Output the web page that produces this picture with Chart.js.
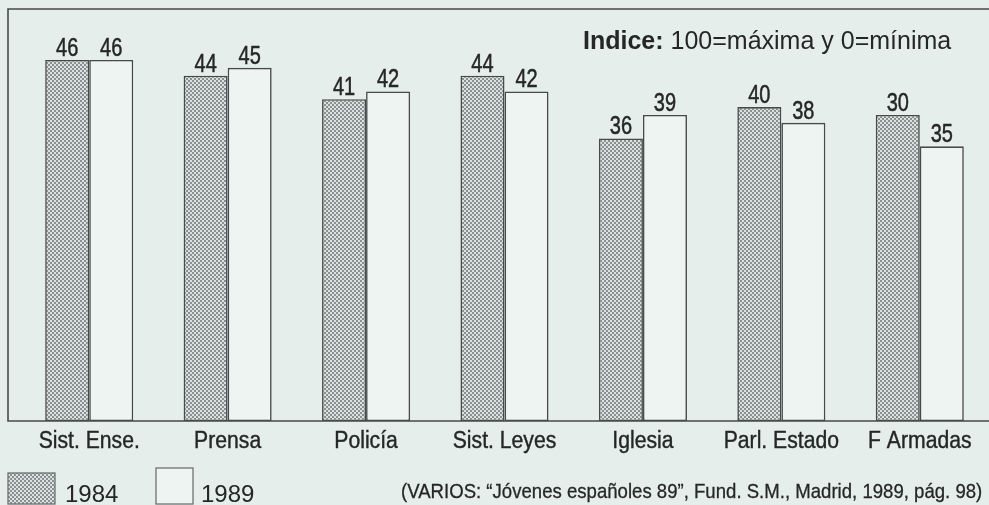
<!DOCTYPE html>
<html>
<head>
<meta charset="utf-8">
<script src="https://cdn.jsdelivr.net/npm/chart.js@4.4.1/dist/chart.umd.min.js"></script>
<style>
  html, body { margin: 0; padding: 0; background: #e5eeeb; }
  #wrap { width: 989px; height: 505px; }
</style>
</head>
<body>
<div id="wrap"><canvas id="c" width="989" height="505"></canvas></div>
<script>
// ---- data ----
const categories = ["Sist. Ense.", "Prensa", "Policía", "Sist. Leyes", "Iglesia", "Parl. Estado", "F Armadas"];
// bar heights as drawn
const values1984 = [46, 44, 41, 44, 36, 40, 39];
const values1989 = [46, 45, 42, 42, 39, 38, 35];
// value labels as printed above the bars
const printed1984 = ["46", "44", "41", "44", "36", "40", "30"];
const printed1989 = ["46", "45", "42", "42", "39", "38", "35"];
const seriesNames = ["1984", "1989"];
const noteBold = "Indice:";
const noteText = " 100=máxima y 0=mínima";
const sourceText = "(VARIOS: \u201CJóvenes españoles 89\u201D, Fund. S.M., Madrid, 1989, pág. 98)";

const SANS = "'Liberation Sans', Arial, Helvetica, sans-serif";
const INK = "#252727";
const LINE = "#474a4a";

// draw horizontally condensed text (the original typeface is a narrow grotesque)
function condensed(ctx, text, x, y, sx, align, weight) {
  ctx.save();
  ctx.translate(x, y);
  ctx.scale(sx, 1);
  ctx.textAlign = align || 'left';
  ctx.fillText(text, 0, 0);
  if (weight) {
    ctx.strokeStyle = ctx.fillStyle;
    ctx.lineWidth = weight;
    ctx.strokeText(text, 0, 0);
  }
  ctx.restore();
}

function makeStipple() {
  const t = document.createElement('canvas');
  t.width = 4; t.height = 4;
  const g = t.getContext('2d');
  g.fillStyle = "#dae1df";
  g.fillRect(0, 0, 4, 4);
  g.fillStyle = "#899090";
  g.fillRect(0, 0, 2, 2);
  g.fillRect(2, 2, 2, 2);
  return g.createPattern(t, 'repeat');
}
const stipple = makeStipple();
const plain = "#eef4f2";

const framePlugin = {
  id: 'frame',
  beforeDatasetsDraw(chart) {
    const { ctx, chartArea: a } = chart;
    ctx.save();
    ctx.strokeStyle = LINE;
    ctx.lineWidth = 1.6;
    ctx.beginPath();
    ctx.moveTo(chart.width, a.top);
    ctx.lineTo(a.left - 12, a.top);
    ctx.lineTo(a.left - 12, a.bottom);
    ctx.lineTo(chart.width, a.bottom);
    ctx.stroke();
    ctx.restore();
  }
};

const textPlugin = {
  id: 'texts',
  afterDatasetsDraw(chart) {
    const { ctx } = chart;
    const printed = [printed1984, printed1989];
    ctx.save();
    ctx.fillStyle = INK;
    ctx.textBaseline = 'alphabetic';
    // value labels
    ctx.font = "25px " + SANS;
    chart.data.datasets.forEach((ds, di) => {
      chart.getDatasetMeta(di).data.forEach((el, i) => {
        condensed(ctx, printed[di][i], el.x, el.y - 4, 0.8, 'center', 0.5);
      });
    });
    // category labels from the x scale
    const xs = chart.scales.x;
    ctx.font = "23px " + SANS;
    chart.data.labels.forEach((lab, i) => {
      condensed(ctx, lab, xs.getPixelForValue(i), chart.chartArea.bottom + 27, 0.92, 'center', 0.4);
    });
    ctx.restore();
  },
  afterDraw(chart) {
    const { ctx } = chart;
    const H = chart.height;
    ctx.save();
    ctx.fillStyle = INK;
    ctx.textBaseline = 'alphabetic';
    // note
    ctx.font = "bold 25px " + SANS;
    const x0 = 583, y0 = 49;
    ctx.fillText(noteBold, x0, y0);
    const w = ctx.measureText(noteBold).width;
    ctx.font = "25px " + SANS;
    ctx.fillText(noteText, x0 + w, y0);

    // legend
    const boxes = [[8, H - 32, 47, 31, 65], [156, H - 37, 37, 36, 201]];
    chart.data.datasets.forEach((ds, i) => {
      const [bx, by, bw, bh, tx] = boxes[i];
      ctx.fillStyle = ds.backgroundColor;
      ctx.fillRect(bx, by, bw, bh);
      ctx.strokeStyle = "#6d7272";
      ctx.lineWidth = 1.3;
      ctx.strokeRect(bx, by, bw, bh);
      ctx.fillStyle = INK;
      ctx.font = "24px " + SANS;
      ctx.fillText(ds.label, tx, H - 3);
    });

    // source
    ctx.font = "21px " + SANS;
    condensed(ctx, sourceText, 401, H - 7, 0.885, 'left', 0.3);
    ctx.restore();
  }
};

new Chart(document.getElementById('c'), {
  type: 'bar',
  data: {
    labels: categories,
    datasets: [
      { label: seriesNames[0], data: values1984, backgroundColor: stipple, borderColor: LINE, borderWidth: 1.6, borderSkipped: false },
      { label: seriesNames[1], data: values1989, backgroundColor: plain, borderColor: LINE, borderWidth: 1.6, borderSkipped: false }
    ]
  },
  options: {
    responsive: false,
    animation: false,
    devicePixelRatio: 1,
    layout: { padding: { left: 20, right: 0, top: 9, bottom: 0 } },
    datasets: { bar: { categoryPercentage: 0.636, barPercentage: 1.0 } },
    plugins: { legend: { display: false }, tooltip: { enabled: false }, title: { display: false } },
    scales: {
      y: { display: false, min: 0, max: 52.5 },
      x: {
        grid: { display: false, drawTicks: false },
        border: { display: false },
        ticks: { display: false },
        afterFit(scale) { scale.height = 84; }
      }
    }
  },
  plugins: [framePlugin, textPlugin]
});
</script>
</body>
</html>
